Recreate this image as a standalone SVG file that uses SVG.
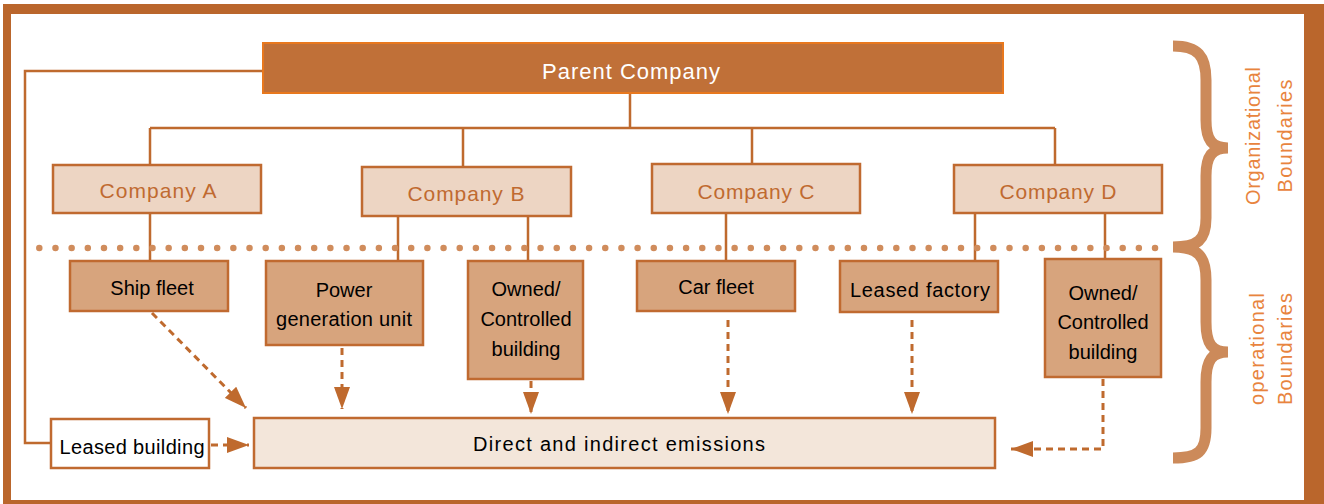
<svg xmlns="http://www.w3.org/2000/svg" width="1324" height="504" viewBox="0 0 1324 504">
<defs>
<style>
.ln{fill:none;stroke:#BF6A2E;stroke-width:2.5}
.da{fill:none;stroke:#BF6A2E;stroke-width:3;stroke-dasharray:7 5}
.co{fill:#EDD5C3;stroke:#C06A30;stroke-width:2.5}
.sb{fill:#D7A47D;stroke:#C06A30;stroke-width:2.5}
.ct{font-family:"Liberation Sans",Arial,sans-serif;font-size:21px;fill:#C06A30;text-anchor:middle}
.st{font-family:"Liberation Sans",Arial,sans-serif;font-size:20px;fill:#000;text-anchor:middle}
.vt{font-family:"Liberation Sans",Arial,sans-serif;font-size:20px;fill:#E8843E;text-anchor:middle}
</style>
<marker id="ah" markerUnits="userSpaceOnUse" markerWidth="24" markerHeight="16" refX="22" refY="8" orient="auto">
<path d="M0,0 L22,8 L0,16 Z" fill="#BF6A2E"/>
</marker>
</defs>
<rect x="3" y="4" width="1321" height="500" fill="#BA662C"/>
<rect x="11" y="14" width="1293" height="486" fill="#fff"/>
<g id="connectors">
<path class="ln" d="M263,71 H25 V443 H51"/>
<path class="ln" d="M630,93 V128 M150,128 H1055 M150,128 V165 M463,128 V167 M752,128 V164 M1055,128 V165"/>
<path class="ln" d="M150,213 V261 M398,215 V261 M528,215 V261 M726,213 V261 M975,213 V261 M1105,213 V259"/>
<line x1="39.3" y1="248" x2="1167" y2="248" stroke="#D08C5C" stroke-width="6.5" stroke-linecap="round" stroke-dasharray="0 16.17"/>
<path class="da" d="M152,313 L246,408" marker-end="url(#ah)"/>
<path class="da" d="M342,348 V409" marker-end="url(#ah)"/>
<path class="da" d="M531,381 V414" marker-end="url(#ah)"/>
<path class="da" d="M728,320 V414" marker-end="url(#ah)"/>
<path class="da" d="M912,320 V414" marker-end="url(#ah)"/>
<path class="da" d="M1103,379 V449 H1011" marker-end="url(#ah)"/>
<path class="da" d="M211,445 H249" marker-end="url(#ah)"/>
</g>
<g id="parent">
<rect x="263" y="43" width="740" height="50" fill="#C07038" stroke="#E8781E" stroke-width="2"/>
<text x="631" y="79" font-family="Liberation Sans,Arial,sans-serif" font-size="22" fill="#fff" text-anchor="middle" textLength="178">Parent Company</text>
</g>
<g id="companyA"><rect class="co" x="53" y="165" width="208" height="48"/><text class="ct" x="158" y="198" textLength="117">Company A</text></g>
<g id="companyB"><rect class="co" x="362" y="167" width="209" height="49"/><text class="ct" x="466" y="201" textLength="117">Company B</text></g>
<g id="companyC"><rect class="co" x="652" y="164" width="208" height="49"/><text class="ct" x="756" y="199" textLength="117">Company C</text></g>
<g id="companyD"><rect class="co" x="954" y="165" width="208" height="48"/><text class="ct" x="1058" y="199" textLength="117">Company D</text></g>
<g id="shipFleet"><rect class="sb" x="70" y="261" width="158" height="50"/><text class="st" x="152" y="295">Ship fleet</text></g>
<g id="powerGen"><rect class="sb" x="266" y="261" width="157" height="84"/><text class="st" x="344" y="297">Power</text><text class="st" x="344" y="326" textLength="136">generation unit</text></g>
<g id="ownedB"><rect class="sb" x="468" y="261" width="115" height="118"/><text class="st" x="526" y="296">Owned/</text><text class="st" x="526" y="326">Controlled</text><text class="st" x="526" y="356">building</text></g>
<g id="carFleet"><rect class="sb" x="637" y="261" width="158" height="50"/><text class="st" x="716" y="294">Car fleet</text></g>
<g id="leasedFactory"><rect class="sb" x="840" y="261" width="158" height="51"/><text class="st" x="920" y="297" textLength="140">Leased factory</text></g>
<g id="ownedD"><rect class="sb" x="1045" y="259" width="116" height="118"/><text class="st" x="1103" y="300">Owned/</text><text class="st" x="1103" y="329">Controlled</text><text class="st" x="1103" y="359">building</text></g>
<g id="emissions"><rect x="254" y="418" width="741" height="50" fill="#F3E6DA" stroke="#C06A30" stroke-width="2.5"/><text class="st" x="619" y="451" textLength="292">Direct and indirect emissions</text></g>
<g id="leasedBuilding"><rect x="51" y="419" width="158" height="49" fill="#fff" stroke="#C06A30" stroke-width="2.5"/><text class="st" x="132" y="454" textLength="145">Leased building</text></g>
<g id="braces">
<path d="M1173,46 C1198,46 1206,56 1206,80 L1206,120 C1206,140 1212,148 1228,148 C1212,148 1206,156 1206,176 L1206,218 C1206,240 1198,247 1173,247 C1198,247 1206,256 1206,280 L1206,322 C1206,344 1212,352 1228,352 C1212,352 1206,360 1206,382 L1206,428 C1206,452 1198,458 1173,458" fill="none" stroke="#CC8A5A" stroke-width="11"/>
</g>
<g id="labels">
<text class="vt" transform="translate(1260,136) rotate(-90)" textLength="138">Organizational</text>
<text class="vt" transform="translate(1292,136) rotate(-90)" textLength="113">Boundaries</text>
<text class="vt" transform="translate(1264,349) rotate(-90)" textLength="112">operational</text>
<text class="vt" transform="translate(1292,349) rotate(-90)" textLength="112">Boundaries</text>
</g>
</svg>
